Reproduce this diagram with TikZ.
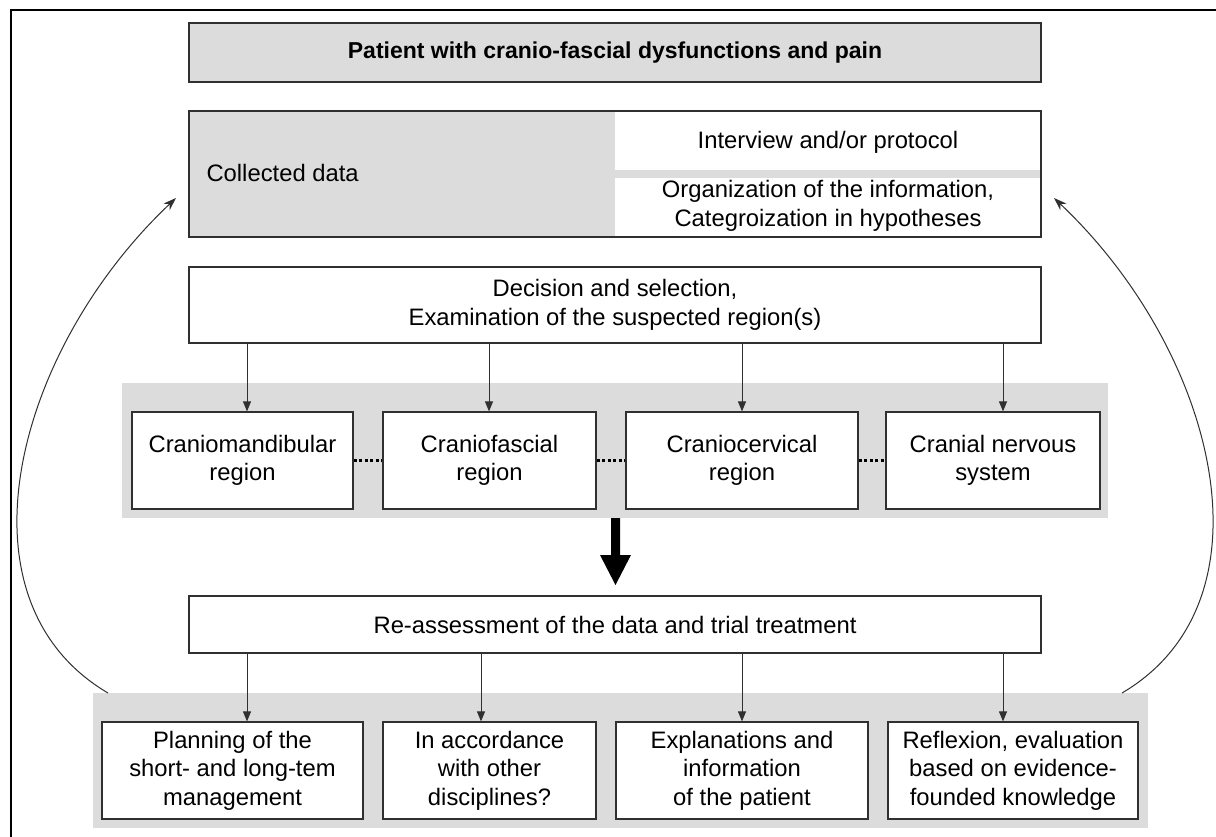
\documentclass[tikz,border=0pt]{standalone}
\usepackage{fontspec}
\setmainfont{Liberation Sans}
\usetikzlibrary{arrows.meta}
\definecolor{bandgray}{HTML}{DCDCDC}
\definecolor{edge}{HTML}{303030}
\begin{document}
\begin{tikzpicture}[x=1pt,y=-1pt,
  txt/.style={font=\fontsize{23.8}{28.5}\selectfont, align=center, text=black},
  box/.style={draw=edge, line width=1.2pt, fill=white, inner sep=0pt, txt},
  graybox/.style={draw=edge, line width=1.2pt, fill=bandgray, inner sep=0pt, txt},
  band/.style={fill=bandgray, draw=none},
  arr/.style={draw=edge, line width=1pt, -{Triangle[length=10pt,width=8pt]}},
  curv/.style={draw=edge, line width=1pt, -{Stealth[length=13pt,width=9pt]}},
  dots/.style={draw=black, line width=3pt, dash pattern=on 3pt off 2.5pt},
]
\useasboundingbox (0,0) rectangle (1216,837);
\fill[white] (0,0) rectangle (1216,837);
% outer frame (only left and top edges visible)
\draw[black, line width=2.7pt] (11,840) -- (11,10) -- (1220,10);

% title
\node[graybox, minimum width=852pt, minimum height=59pt, font=\fontsize{23}{28}\selectfont\bfseries] (title) at (615,52.5) {Patient with cranio-fascial dysfunctions and pain};

% collected data
\node[graybox, minimum width=852pt, minimum height=126pt] (coll) at (615,174) {};
\fill[white] (615,112) rectangle (1040.4,170);
\fill[white] (615,178) rectangle (1040.4,236.4);
\draw[edge, line width=1.2pt] (coll.north west) rectangle (coll.south east);
\node[txt, anchor=west] (colltxt) at (203,173) {Collected data};
\node[txt] (interview) at (828,142) {Interview and/or protocol};
\node[txt] (organ) at (828,206) {Organization of the information,\\Categroization in hypotheses};

% decision
\node[box, minimum width=852pt, minimum height=76pt] (dec) at (615,305) {Decision and selection,\\Examination of the suspected region(s)};

% regions band
\fill[band] (122,383) rectangle (1108,518);
\node[box, minimum width=221pt, minimum height=97pt] (r1) at (242.5,460.5) {Craniomandibular\\region};
\node[box, minimum width=213pt, minimum height=97pt] (r2) at (489.5,460.5) {Craniofascial\\region};
\node[box, minimum width=232pt, minimum height=97pt] (r3) at (742,460.5) {Craniocervical\\region};
\node[box, minimum width=214pt, minimum height=97pt] (r4) at (993,460.5) {Cranial nervous\\system};
\draw[dots] (r1.east) -- (r2.west);
\draw[dots] (r2.east) -- (r3.west);
\draw[dots] (r3.east) -- (r4.west);

\coordinate (a1) at (247,0);
\coordinate (a2) at (489,0);
\coordinate (a3) at (742,0);
\coordinate (a4) at (1003,0);
\draw[arr] (dec.south -| a1) -- (r1.north -| a1);
\draw[arr] (dec.south -| a2) -- (r2.north -| a2);
\draw[arr] (dec.south -| a3) -- (r3.north -| a3);
\draw[arr] (dec.south -| a4) -- (r4.north -| a4);

% re-assessment
\node[box, minimum width=852pt, minimum height=57pt] (reas) at (615,624.5) {Re-assessment of the data and trial treatment};

% big arrow
\fill[black] (611,518) -- (620,518) -- (620,555) -- (631,555) -- (615.5,585) -- (600,555) -- (611,555) -- cycle;

% bottom band
\fill[band] (93,693) rectangle (1148,828);
\node[box, minimum width=261pt, minimum height=97pt] (p1) at (232.5,770.5) {Planning of the\\short- and long-tem\\management};
\node[box, minimum width=213pt, minimum height=97pt] (p2) at (489.5,770.5) {In accordance\\with other\\disciplines?};
\node[box, minimum width=252pt, minimum height=97pt] (p3) at (742,770.5) {Explanations and\\information\\of the patient};
\node[box, minimum width=250pt, minimum height=97pt] (p4) at (1013,770.5) {Reflexion, evaluation\\based on evidence-\\founded knowledge};

\coordinate (b1) at (247,0);
\coordinate (b2) at (481,0);
\coordinate (b3) at (742,0);
\coordinate (b4) at (1003,0);
\draw[arr] (reas.south -| b1) -- (p1.north -| b1);
\draw[arr] (reas.south -| b2) -- (p2.north -| b2);
\draw[arr] (reas.south -| b3) -- (p3.north -| b3);
\draw[arr] (reas.south -| b4) -- (p4.north -| b4);

% feedback curves
\coordinate (lstart) at (108,693);
\coordinate (lend) at (176,198);
\coordinate (rstart) at (1122,693);
\coordinate (rend) at (1054,198);
\draw[curv] (lstart) .. controls (-50,600) and (15,350) .. (lend);
\draw[curv] (rstart) .. controls (1280,600) and (1215,350) .. (rend);
\end{tikzpicture}
\end{document}
